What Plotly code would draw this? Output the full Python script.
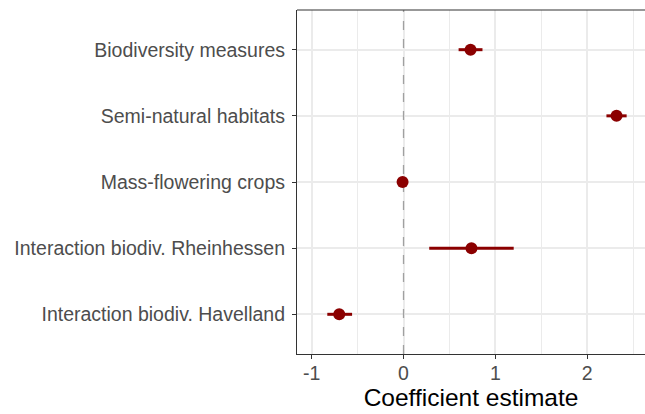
import plotly.graph_objects as go

categories = ["Biodiversity measures", "Semi-natural habitats", "Mass-flowering crops",
              "Interaction biodiv. Rheinhessen", "Interaction biodiv. Havelland"]
estimates = [0.73, 2.32, -0.01, 0.74, -0.70]
lower = [0.60, 2.21, -0.03, 0.28, -0.83]
upper = [0.86, 2.43, 0.01, 1.20, -0.56]
x_ticks = [-1, 0, 1, 2]

positions = list(range(len(categories)))
err_plus = [u - e for u, e in zip(upper, estimates)]
err_minus = [e - l for e, l in zip(estimates, lower)]
y_range = [len(categories) - 0.4, -0.6]

fig = go.Figure()
# reference line at zero (drawn beneath the points)
fig.add_trace(go.Scatter(
    x=[0, 0], y=y_range, mode="lines",
    line=dict(color="#A0A0A0", width=1.3, dash="dash"),
    showlegend=False, hoverinfo="skip",
))
fig.add_trace(go.Scatter(
    x=estimates, y=positions, mode="markers",
    marker=dict(color="#8B0000", size=12),
    error_x=dict(type="data", array=err_plus, arrayminus=err_minus,
                 color="#8B0000", thickness=3, width=0),
    showlegend=False,
))

fig.add_shape(type="line", x0=0, x1=1, xref="paper", y0=1, y1=1, yref="paper",
              line=dict(color="#333333", width=1.2))

fig.update_layout(
    width=645, height=414,
    margin=dict(l=297, r=0, t=10, b=60),
    paper_bgcolor="white", plot_bgcolor="white",
    font=dict(family="Liberation Sans, Arial, sans-serif", color="#4D4D4D"),
    xaxis=dict(
        range=[-1.16, 2.63], tickvals=x_ticks, ticktext=[str(v) for v in x_ticks],
        showgrid=True, gridcolor="#EBEBEB", gridwidth=2,
        minor=dict(dtick=0.5, tick0=-0.5, showgrid=True, gridcolor="#EBEBEB", gridwidth=1.2),
        zeroline=False, showline=True, linecolor="#333333", linewidth=1.2, mirror=False,
        ticks="outside", ticklen=4, tickcolor="#333333", tickwidth=1.2,
        tickfont=dict(size=19.5, color="#4D4D4D"), ticklabelstandoff=-3,
        title=dict(text="Coefficient estimate", font=dict(size=24.5, color="black"), standoff=6),
    ),
    yaxis=dict(
        tickvals=positions, ticktext=categories,
        range=y_range,
        showgrid=True, gridcolor="#EBEBEB", gridwidth=2,
        zeroline=False, showline=True, linecolor="#333333", linewidth=1.2, mirror=False,
        ticks="outside", ticklen=4, tickcolor="#333333", tickwidth=1.2,
        tickfont=dict(size=19.5, color="#4D4D4D"), ticklabelstandoff=3,
    ),
)

fig.write_html("out.html")
